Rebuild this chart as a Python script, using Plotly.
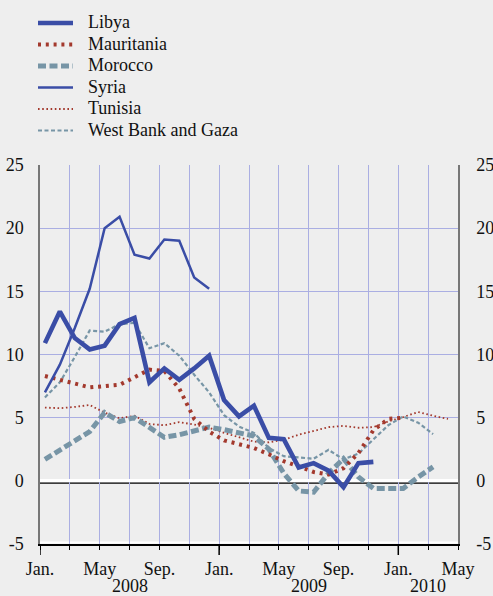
import plotly.graph_objects as go

# ---------------- data ----------------
month_names = ["Jan.", "Feb.", "Mar.", "Apr.", "May", "Jun.",
               "Jul.", "Aug.", "Sep.", "Oct.", "Nov.", "Dec."]
years = ["2008", "2009", "2010"]
N_MONTHS = 28                     # axis spans Jan 2008 .. May 2010
POINT_OFFSET = 0.33               # monthly observations sit a third into the month

libya = [10.9, 13.4, 11.3, 10.4, 10.7, 12.4, 12.9, 7.8, 8.9, 8.0, 8.9, 9.9,
         6.4, 5.1, 5.95, 3.4, 3.3, 1.05, 1.4, 0.8, -0.5, 1.4, 1.5]
mauritania = [8.3, 8.0, 7.7, 7.4, 7.5, 7.6, 8.2, 8.8, 8.7, 7.3, 4.9, 3.9,
              3.2, 2.9, 2.6, 2.1, 1.55, 1.15, 0.7, 0.5, 1.0, 2.2, 4.0, 4.9,
              5.0]
morocco = [1.7, 2.4, 3.1, 3.9, 5.4, 4.7, 5.0, 4.2, 3.45, 3.65, 4.0, 4.25,
           4.05, 3.8, 3.55, 2.5, 0.6, -0.8, -0.9, 0.6, 1.75, 0.3, -0.6, -0.6,
           -0.6, 0.3, 1.1]
syria = [7.0, 9.2, 12.1, 15.2, 20.0, 20.9, 17.9, 17.6, 19.1, 19.0, 16.1, 15.2]
tunisia = [5.8, 5.75, 5.85, 6.0, 5.4, 4.95, 5.15, 4.5, 4.4, 4.65, 4.45, 4.2,
           3.8, 3.45, 3.1, 3.05, 3.25, 3.65, 3.95, 4.25, 4.35, 4.2, 4.25, 4.7,
           5.05, 5.45, 5.15, 4.9]
west_bank_gaza = [6.6, 7.8, 9.8, 11.9, 11.8, 12.4, 12.5, 10.5, 10.9, 9.9, 8.4,
                  7.0, 5.2, 4.3, 3.8, 2.6, 1.95, 1.85, 1.75, 2.45, 1.7, 2.15,
                  3.3, 4.4, 5.1, 4.6, 3.7]

y_tickvals = [-5, 0, 5, 10, 15, 20, 25]
y_ticktext = ["-5", "0", "5", "10", "15", "20", "25"]

# ---------------- style ----------------
BLUE = "#3A4DA6"
RED = "#A3392D"
GREY = "#7795A6"
GRID = "#AAAEE2"
BG = "#EEEEEE"
TXT = "#111111"
FONT = "Liberation Serif"

W, H = 493, 596
M = dict(l=40, r=35, t=165, b=52)
PW = W - M["l"] - M["r"]
PH = H - M["t"] - M["b"]


def px_x(px):
    return (px - M["l"]) / PW


def px_y(py):
    return (H - M["b"] - py) / PH


series = [
    ("Libya", libya, BLUE, 4.6, "solid"),
    ("Mauritania", mauritania, RED, 4.0, "3px,4.8px"),
    ("Morocco", morocco, GREY, 5.0, "8px,3.5px"),
    ("Syria", syria, BLUE, 2.5, "solid"),
    ("Tunisia", tunisia, RED, 1.8, "1.6px,2.6px"),
    ("West Bank and Gaza", west_bank_gaza, GREY, 2.2, "4px,2.5px"),
]
draw_order = ["Tunisia", "West Bank and Gaza", "Morocco", "Mauritania", "Syria", "Libya"]
spec = {s[0]: s for s in series}

fig = go.Figure()
for name in draw_order:
    _, vals, col, wd, dash = spec[name]
    fig.add_trace(go.Scatter(
        x=[i + POINT_OFFSET for i in range(len(vals))], y=vals,
        mode="lines", name=name, showlegend=False,
        line=dict(color=col, width=wd, dash=dash),
    ))

# dummy trace so the right-hand axis is drawn
fig.add_trace(go.Scatter(x=[None], y=[None], yaxis="y2", showlegend=False,
                         hoverinfo="skip"))

tickvals_x = list(range(0, N_MONTHS + 1, 2))
ticktext_x = [month_names[v % 12] if v % 4 == 0 else "" for v in tickvals_x]

fig.update_layout(
    width=W, height=H, margin=M,
    paper_bgcolor=BG, plot_bgcolor=BG,
    font=dict(family=FONT, size=18, color=TXT),
    showlegend=False,
    xaxis=dict(
        range=[0, N_MONTHS], tickmode="array", tickvals=tickvals_x,
        ticktext=ticktext_x, showgrid=True, gridcolor=GRID, gridwidth=1.2,
        zeroline=False, showline=True, linecolor="#000000", linewidth=1.5,
        ticks="outside", ticklen=4, tickwidth=1.2, tickcolor="#000000",
        ticklabelstandoff=4, automargin=False,
        tickfont=dict(size=18, family=FONT, color=TXT),
    ),
    yaxis=dict(
        range=[-5, 25], tickmode="array", tickvals=y_tickvals,
        ticktext=y_ticktext, showgrid=True, gridcolor=GRID, gridwidth=1.2,
        zeroline=True, zerolinecolor="#FFFFFF", zerolinewidth=2.5,
        showline=True, linecolor="#777777", linewidth=1.5, ticks="",
        ticklabelstandoff=11, automargin=False,
        tickfont=dict(size=18, family=FONT, color=TXT),
    ),
    yaxis2=dict(
        range=[-5, 25], overlaying="y", side="right", tickmode="array",
        tickvals=y_tickvals, ticktext=y_ticktext, showgrid=False,
        zeroline=False, showline=True, linecolor="#777777", linewidth=1.5,
        ticks="", ticklabelstandoff=13, automargin=False,
        tickfont=dict(size=18, family=FONT, color=TXT),
    ),
)

shapes = []
# black line just beneath the white zero line
shapes.append(dict(type="line", xref="paper", x0=0, x1=1, yref="y",
                   ysizemode="pixel", yanchor=0, y0=-2.2, y1=-2.2,
                   line=dict(color="#000000", width=1.3), layer="below"))
# white line along the bottom of the plot
shapes.append(dict(type="line", xref="paper", x0=0, x1=1, yref="y",
                   ysizemode="pixel", yanchor=-5, y0=1.5, y1=1.5,
                   line=dict(color="#FFFFFF", width=2.2), layer="below"))
# long year ticks at January
for m in range(0, N_MONTHS + 1, 12):
    shapes.append(dict(type="line", xref="x", x0=m, x1=m, yref="paper",
                       ysizemode="pixel", yanchor=0, y0=-1, y1=-11,
                       line=dict(color="#000000", width=1.5)))

annotations = []
# year labels centred under each year span
year_centres = [6, 18, 26]
for yr, xc in zip(years, year_centres):
    annotations.append(dict(text=yr, x=xc, xref="x", y=px_y(586), yref="paper",
                            showarrow=False, xanchor="center", yanchor="middle",
                            font=dict(size=18, family=FONT, color=TXT)))

# legend (drawn manually for compact spacing)
for k, (name, vals, col, wd, dash) in enumerate(series):
    row = 23 + 21.5 * k
    shapes.append(dict(type="line", xref="paper", yref="paper",
                       x0=px_x(38), x1=px_x(73), y0=px_y(row), y1=px_y(row),
                       line=dict(color=col, width=wd, dash=dash)))
    annotations.append(dict(text=name, xref="paper", yref="paper",
                            x=px_x(86), y=px_y(row - 1), showarrow=False,
                            xanchor="left", yanchor="middle",
                            font=dict(size=18, family=FONT, color=TXT)))

fig.update_layout(shapes=shapes, annotations=annotations)

fig.write_html(
    "out.html",
    config={"displayModeBar": False},
    post_script="document.body.style.margin='0';"
                "document.body.style.background='#EEEEEE';",
)
